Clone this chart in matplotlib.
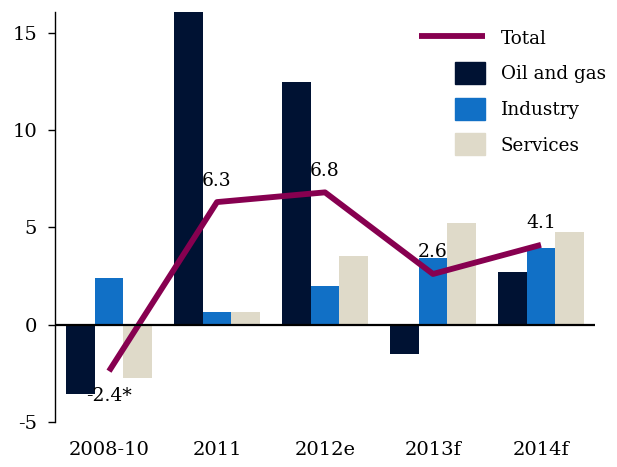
import matplotlib
matplotlib.use("Agg")
import matplotlib.pyplot as plt
import numpy as np
from matplotlib.patches import Rectangle
from matplotlib.lines import Line2D
from matplotlib.legend_handler import HandlerPatch

categories = ["2008-10", "2011", "2012e", "2013f", "2014f"]
oil_gas = [-3.55, 16.5, 12.5, -1.5, 2.7]
industry = [2.4, 0.65, 2.0, 3.4, 3.95]
services = [-2.75, 0.65, 3.55, 5.2, 4.75]
total = [-2.4, 6.3, 6.8, 2.6, 4.1]
total_labels = ["-2.4*", "6.3", "6.8", "2.6", "4.1"]

c_oil = "#001233"
c_ind = "#1170C6"
c_srv = "#DFDAC9"
c_tot = "#870050"

plt.rcParams['font.family'] = ['DejaVu Serif']
plt.rcParams['axes.unicode_minus'] = False

fig = plt.figure(figsize=(6.17, 4.67), dpi=100)
ax = fig.add_axes([55/617, 1-421.7/467, 540/617, (421.7-12)/467])

x = np.arange(len(categories))
w = 0.265
ax.bar(x - w, oil_gas, w, color=c_oil, zorder=2)
ax.bar(x, industry, w, color=c_ind, zorder=2)
ax.bar(x + w, services, w, color=c_srv, zorder=2)
ax.plot(x, total, color=c_tot, lw=4.2, zorder=3, solid_capstyle='butt')

for i, (v, t) in enumerate(zip(total, total_labels)):
    if v < 0:
        ax.annotate(t, (x[i], v), xytext=(0, -18), textcoords='offset points',
                    ha='center', va='center', fontsize=13.5, zorder=4)
    else:
        ax.annotate(t, (x[i], v), xytext=(0, 9), textcoords='offset points',
                    ha='center', va='bottom', fontsize=13.5, zorder=4)

ax.axhline(0, color='black', lw=1.6, zorder=3)

ax.set_xlim(-0.5, 4.5)
ax.set_ylim(-5, 16.08)
ax.set_yticks([-5, 0, 5, 10, 15])
ax.set_xticks(x)
ax.set_xticklabels(categories)
ax.tick_params(axis='x', length=0, pad=14, labelsize=14)
ax.tick_params(axis='y', length=5, width=1, pad=8, labelsize=14)
for s in ['top', 'right', 'bottom']:
    ax.spines[s].set_visible(False)
ax.spines['left'].set_linewidth(1)


def small_patch(legend, orig_handle, xdescent, ydescent, width, height, fontsize):
    pw = 21.6
    ph = 15.8
    return Rectangle((-xdescent + width - pw, -ydescent + (height - ph) / 2), pw, ph)


handles = [
    Line2D([0], [0], color=c_tot, lw=4.2, solid_capstyle='butt'),
    Rectangle((0, 0), 1, 1, color=c_oil),
    Rectangle((0, 0), 1, 1, color=c_ind),
    Rectangle((0, 0), 1, 1, color=c_srv),
]
labels = ["Total", "Oil and gas", "Industry", "Services"]
leg = ax.legend(handles, labels,
                loc='upper left', bbox_to_anchor=(0.651, 0.99), frameon=False,
                fontsize=13.2, handlelength=3.6, handleheight=1.1, handletextpad=0.85,
                labelspacing=0.9, borderaxespad=0.3,
                handler_map={Rectangle: HandlerPatch(patch_func=small_patch)})

fig.savefig("out.png", dpi=100)
